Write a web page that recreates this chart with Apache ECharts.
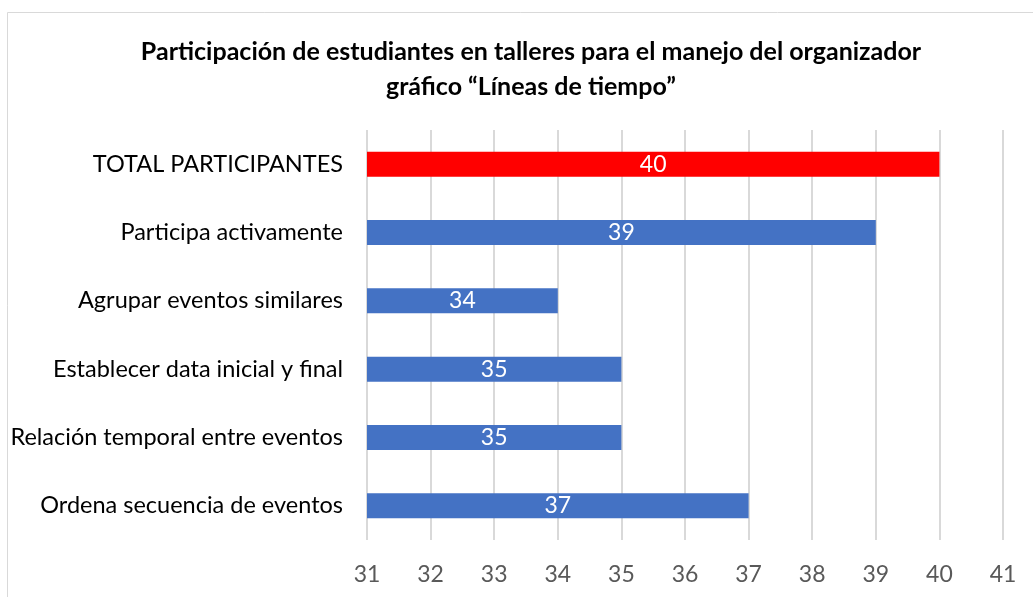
<!DOCTYPE html>
<html>
<head>
<meta charset="utf-8">
<script src="https://cdn.jsdelivr.net/npm/echarts@6/dist/echarts.min.js"></script>
<style>html,body{margin:0;padding:0;background:#fff;}#c{width:1033px;height:597px;}</style>
</head>
<body>
<div id="c"></div>
<script>
const categories = ["Ordena secuencia de eventos","Relación temporal entre eventos","Establecer data inicial y final","Agrupar eventos similares","Participa activamente","TOTAL PARTICIPANTES"];
const values = [37, 35, 35, 34, 39, 40];
const barColors = ["#4472C4","#4472C4","#4472C4","#4472C4","#4472C4","#FF0000"];
const titleText = "Participación de estudiantes en talleres para el manejo del organizador\ngráfico “Líneas de tiempo”";

const FONT = "Lato, 'Open Sans', sans-serif";
const chart = echarts.init(document.getElementById('c'));
chart.setOption({
  animation: false,
  backgroundColor: '#fff',
  graphic: [{
    type: 'rect', shape: {x: 7.5, y: 12.5, width: 1060, height: 620},
    style: {fill: 'none', stroke: '#d9d9d9', lineWidth: 1}, silent: true, z: -1
  }],
  title: {
    text: titleText,
    left: 526, top: 29, textAlign: 'center',
    textStyle: {fontFamily: FONT, fontWeight: 'bold', fontSize: 25, color: '#000', lineHeight: 35}
  },
  grid: {left: 367, right: 30, top: 130, bottom: 57, containLabel: false},
  xAxis: {
    type: 'value', min: 31, max: 41, interval: 1,
    axisLine: {show: false}, axisTick: {show: false},
    splitLine: {show: true, lineStyle: {color: '#d9d9d9', width: 2}},
    axisLabel: {fontFamily: FONT, fontSize: 23, color: '#595959', margin: 23}
  },
  yAxis: {
    type: 'category', data: categories,
    axisLine: {show: false}, axisTick: {show: false},
    axisLabel: {fontFamily: FONT, fontSize: 23.5, color: '#000', margin: 24}
  },
  series: [{
    type: 'bar',
    data: values.map((v, i) => ({value: v, itemStyle: {color: barColors[i]}})),
    barWidth: '36.6%',
    label: {show: true, position: 'inside', color: '#fff', fontFamily: FONT, fontSize: 23}
  }]
});
</script>
</body>
</html>
